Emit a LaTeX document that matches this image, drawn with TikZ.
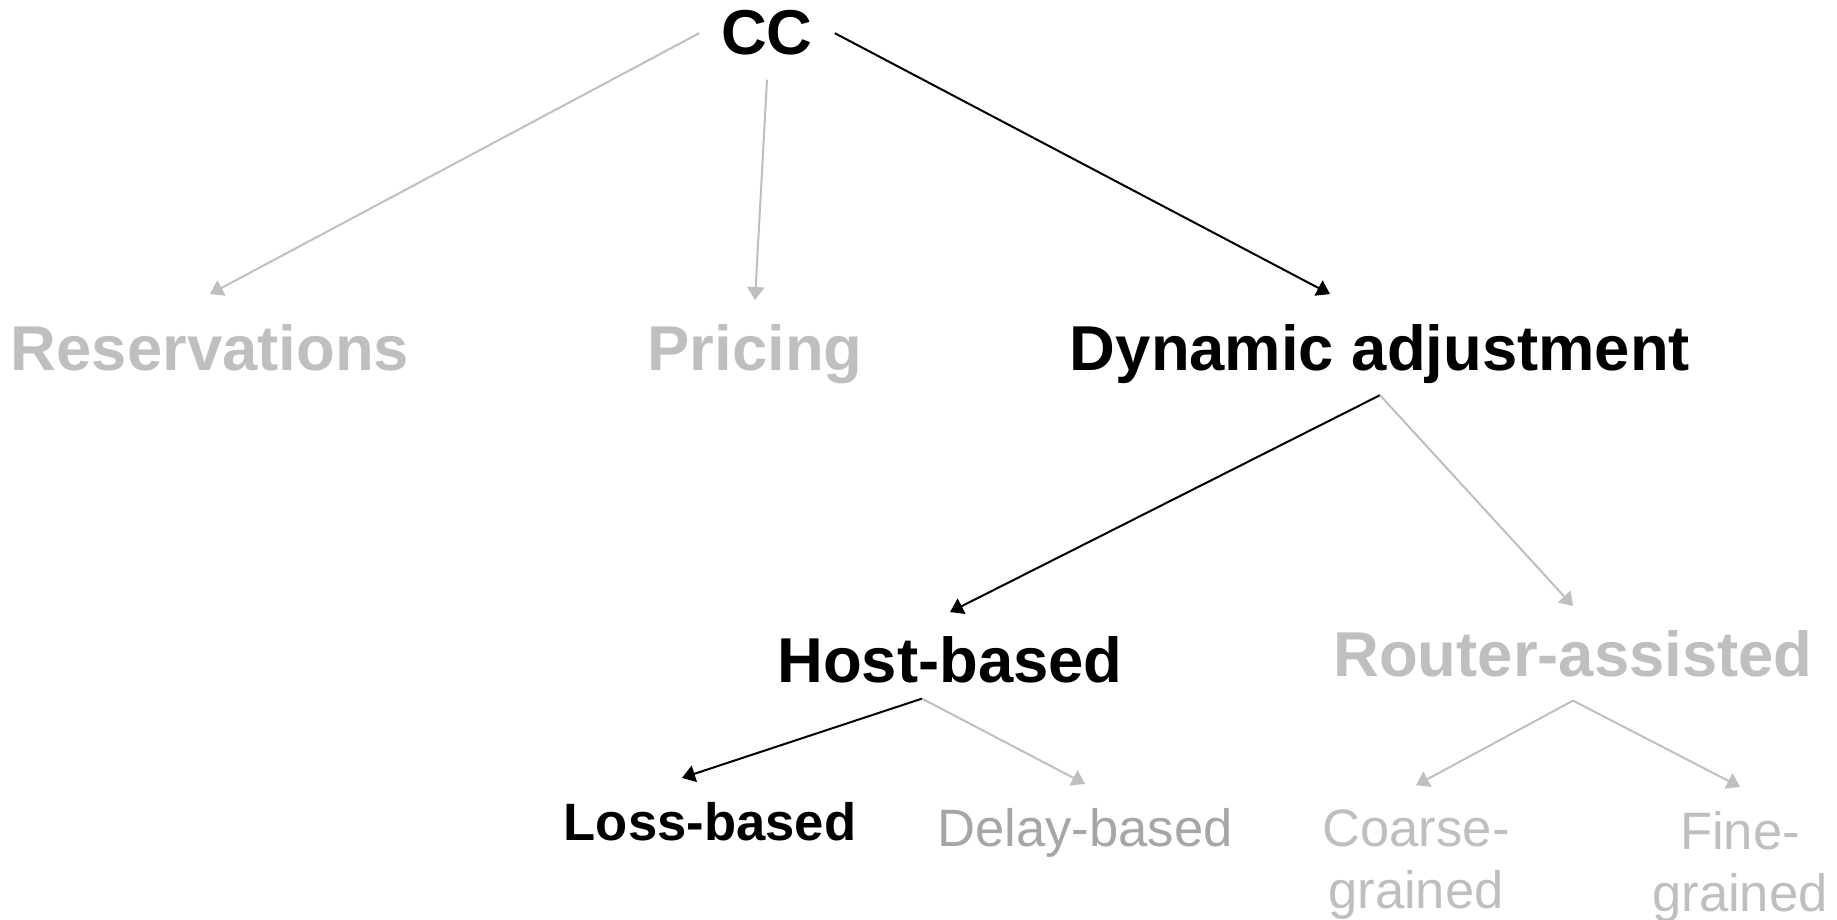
\documentclass[tikz,border=0pt]{standalone}
\usepackage{fontspec}
\setmainfont{Liberation Sans}
\usepackage{xcolor}
\usepackage{tikz}
\usetikzlibrary{arrows.meta}
\definecolor{ccInk}{HTML}{000000}
\definecolor{ccFade}{HTML}{BFBFBF}
\definecolor{ccMuted}{HTML}{A6A6A6}
\tikzset{
  cc diagram/.style={x=0.5pt, y=-0.5pt, line join=round},
  cc label/.style={anchor=base, inner sep=0pt, outer xsep=0pt,
    outer ysep=12pt, align=center, text=ccInk},
  cc big/.style={cc label, font=\bfseries\fontsize{31.7}{38}\selectfont},
  cc small/.style={cc label, font=\fontsize{26.3}{31}\selectfont},
  cc arrow/.style={-{Triangle[width=8.5pt,length=6.5pt]}, draw=ccInk, line width=1pt},
  cc faded/.style={cc arrow, draw=ccFade}
}
\begin{document}
\begin{tikzpicture}[cc diagram]
\useasboundingbox (0,0) rectangle (1837,920);
\node[cc big, outer xsep=11pt] (cc) at (767,55) {CC};
\node[cc big, text=ccFade] (res) at (210,370) {Reservations};
\node[cc big, text=ccFade] (pri) at (755,370) {Pricing};
\node[cc big] (dyn) at (1380,370) {Dynamic adjustment};
\node[cc big] (host) at (950,682) {Host-based};
\node[cc big, text=ccFade] (router) at (1573,676) {Router-assisted};
\node[cc small] (loss) at (710,840) {\bfseries Loss-based};
\node[cc small, text=ccMuted] (delay) at (1085,846) {Delay-based};
\node[cc small, text=ccFade] (coarse) at (1416,908) {Coarse-\\grained};
\node[cc small, text=ccFade] (fine) at (1740,911) {Fine-\\grained};
\draw[cc faded] (cc.west) -- ([yshift=3pt]res.north);
\draw[cc faded] (cc.south) -- (pri.north);
\draw[cc arrow] (cc.east) -- ([xshift=-25pt,yshift=3pt]dyn.north);
\draw[cc arrow] ([yshift=6pt]dyn.south) -- (host.north);
\draw[cc faded] ([yshift=6pt]dyn.south) -- (router.north);
\draw[cc arrow] ([xshift=-14pt,yshift=4pt]host.south) -- ([xshift=-14pt]loss.north);
\draw[cc faded] ([xshift=-14pt,yshift=4pt]host.south) -- (delay.north);
\draw[cc faded] (router.south) -- (coarse.north);
\draw[cc faded] (router.south) -- (fine.north);
\end{tikzpicture}
\end{document}
